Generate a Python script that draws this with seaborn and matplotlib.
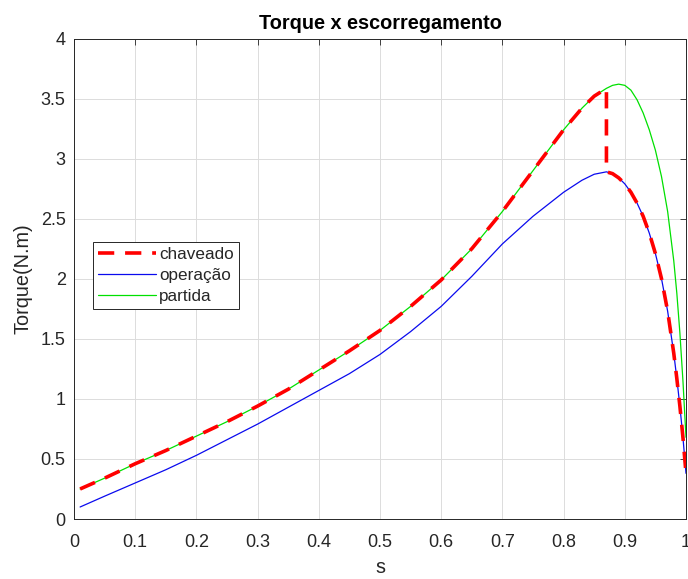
import matplotlib
matplotlib.use("Agg")
import matplotlib.pyplot as plt
import seaborn as sns
import pandas as pd

# ---- data ----
s_values = [0.01, 0.05, 0.10, 0.15, 0.20, 0.25, 0.30, 0.35, 0.40, 0.45, 0.50,
            0.55, 0.60, 0.65, 0.70, 0.75, 0.80, 0.83, 0.85, 0.87, 0.88, 0.89,
            0.90, 0.91, 0.92, 0.93, 0.94, 0.95, 0.96, 0.97, 0.98, 0.985, 0.99,
            0.995, 1.00]
torque_partida = [0.25, 0.34, 0.46, 0.57, 0.69, 0.81, 0.94, 1.08, 1.24, 1.40, 1.57,
                  1.77, 1.99, 2.25, 2.56, 2.90, 3.24, 3.42, 3.52, 3.585, 3.61, 3.62,
                  3.61, 3.57, 3.49, 3.38, 3.24, 3.07, 2.85, 2.56, 2.15, 1.88, 1.55,
                  1.15, 0.68]
torque_operacao = [0.10, 0.19, 0.30, 0.41, 0.53, 0.66, 0.79, 0.93, 1.07, 1.21, 1.37,
                   1.56, 1.77, 2.02, 2.29, 2.52, 2.72, 2.82, 2.87, 2.89, 2.875, 2.84,
                   2.79, 2.72, 2.63, 2.52, 2.38, 2.21, 2.00, 1.73, 1.38, 1.17, 0.94,
                   0.68, 0.38]
s_switch = 0.87

xticks = [0, 0.1, 0.2, 0.3, 0.4, 0.5, 0.6, 0.7, 0.8, 0.9, 1]
yticks = [0, 0.5, 1, 1.5, 2, 2.5, 3, 3.5, 4]
xtick_labels = ["0", "0.1", "0.2", "0.3", "0.4", "0.5", "0.6", "0.7", "0.8", "0.9", "1"]
ytick_labels = ["0", "0.5", "1", "1.5", "2", "2.5", "3", "3.5", "4"]

# chaveado: partida until the switch, then operação
chav_s = [s for s in s_values if s <= s_switch] + [s for s in s_values if s >= s_switch]
chav_t = ([t for s, t in zip(s_values, torque_partida) if s <= s_switch] +
          [t for s, t in zip(s_values, torque_operacao) if s >= s_switch])

df_chav = pd.DataFrame({"s": chav_s, "T": chav_t})
df_op = pd.DataFrame({"s": s_values, "T": torque_operacao})
df_pa = pd.DataFrame({"s": s_values, "T": torque_partida})

sns.set_theme(style="white")
plt.rcParams["font.family"] = ["Liberation Sans", "DejaVu Sans"]

fig = plt.figure(figsize=(6.88, 5.79), dpi=100)
ax = fig.add_axes([74 / 688, 1 - 519 / 579, 612 / 688, 480.5 / 579])

sns.lineplot(data=df_chav, x="s", y="T", sort=False, estimator=None, ax=ax,
             color="#ff0000", linewidth=2.6, label="chaveado", zorder=3)
ax.lines[-1].set_dashes((4.5, 3.0))
sns.lineplot(data=df_op, x="s", y="T", sort=False, estimator=None, ax=ax,
             color="#0a0aee", linewidth=0.9, label="operação", zorder=2)
sns.lineplot(data=df_pa, x="s", y="T", sort=False, estimator=None, ax=ax,
             color="#00e000", linewidth=0.9, label="partida", zorder=1)

ax.set_xlim(0, 1)
ax.set_ylim(0, 4)
ax.set_xticks(xticks)
ax.set_xticklabels(xtick_labels)
ax.set_yticks(yticks)
ax.set_yticklabels(ytick_labels)
ax.grid(True, color="#dcdcdc", linewidth=0.7)
ax.set_axisbelow(True)
ax.tick_params(direction="in", length=4, width=0.6, top=True, right=True,
               labelsize=13, colors="#262626")
ax.tick_params(axis="x", pad=11)
ax.tick_params(axis="y", pad=6)
for sp in ax.spines.values():
    sp.set_color("#262626")
    sp.set_linewidth(0.7)

ax.set_title("Torque x escorregamento", fontsize=14.3, fontweight="bold",
             color="black", pad=7)
ax.set_xlabel("s", fontsize=14.3, color="#262626", labelpad=5)
ax.set_ylabel("Torque(N.m)", fontsize=14.3, color="#262626", labelpad=6)

leg = ax.legend(loc="upper left", bbox_to_anchor=(19 / 612, 277 / 480.5), fontsize=12.3,
                frameon=True, fancybox=False, framealpha=1, edgecolor="#262626",
                handlelength=3.4, handletextpad=0.15, borderpad=0.3,
                labelspacing=0.35, borderaxespad=0)
leg.get_frame().set_linewidth(0.7)

fig.savefig("out.png", dpi=100)
